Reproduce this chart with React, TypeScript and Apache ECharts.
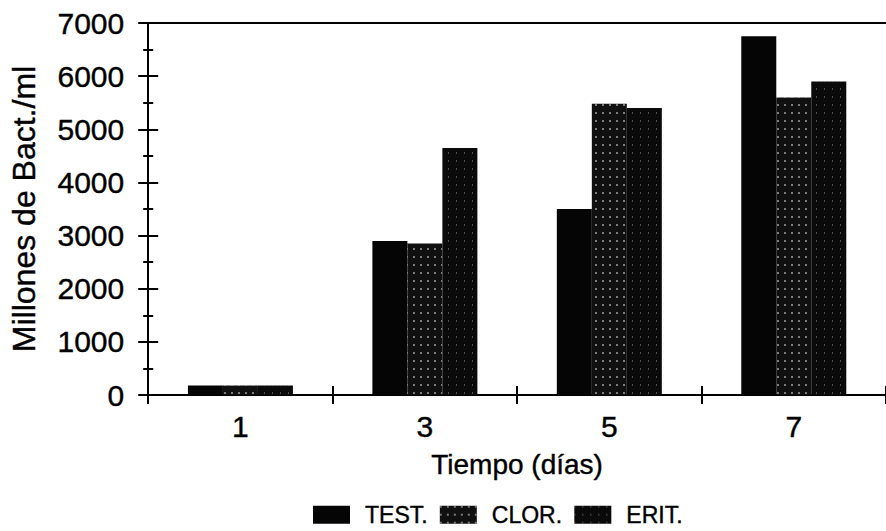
import React, { useEffect, useRef } from "react";
import * as echarts from "echarts";

const categories = ["1", "3", "5", "7"];
const seriesNames = ["TEST.", "CLOR.", "ERIT."];
const test = [180, 2900, 3500, 6750];
const clor = [180, 2850, 5480, 5600];
const erit = [180, 4650, 5400, 5900];
const yTicks = { min: 0, max: 7000, interval: 1000 };

const FONT = "'Liberation Sans', Arial, sans-serif";
const thick = { textBorderColor: "#000", textBorderWidth: 0.4 };

export default function App() {
  const ref = useRef<HTMLDivElement>(null);
  useEffect(() => {
    if (!ref.current) return;
    const chart = echarts.init(ref.current, undefined, { renderer: "svg" });
    const speck = {
      symbol: "rect",
      symbolSize: 1,
      color: "rgba(255,255,255,0.45)",
      dashArrayX: [1.5, 5],
      dashArrayY: [2, 6],
    };
    const barBase = { type: "bar", barWidth: 35, barGap: "0%", xAxisIndex: 0, yAxisIndex: 0 };
    chart.setOption({
      animation: false,
      backgroundColor: "#ffffff",
      textStyle: { fontFamily: FONT, color: "#000" },
      grid: { left: 148, width: 748, top: 23, bottom: 136, containLabel: false },
      legend: {
        data: seriesNames,
        icon: "rect",
        left: 313,
        top: 503,
        padding: 0,
        itemWidth: 37,
        itemHeight: 18,
        itemGap: 12,
        formatter: (name: string) => "{g| }" + name,
        textStyle: {
          fontSize: 23,
          color: "#000",
          fontFamily: FONT,
          ...thick,
          rich: { g: { width: 10, fontSize: 23 } },
        },
      },
      xAxis: [
        {
          type: "category",
          data: categories,
          position: "bottom",
          axisLine: { lineStyle: { color: "#000", width: 2 } },
          axisTick: { show: true, length: 9, lineStyle: { color: "#000", width: 2 } },
          axisLabel: { fontSize: 30, color: "#000", margin: 16, fontFamily: FONT, ...thick },
          name: "Tiempo (días)",
          nameLocation: "middle",
          nameGap: 55,
          nameTextStyle: { fontSize: 28, color: "#000", fontFamily: FONT, ...thick },
        },
        {
          type: "category",
          data: categories,
          position: "bottom",
          axisLine: { show: false },
          axisTick: { show: true, inside: true, length: 9, lineStyle: { color: "#000", width: 2 } },
          axisLabel: { show: false },
        },
        {
          type: "category",
          data: categories,
          position: "top",
          axisLine: { show: true, lineStyle: { color: "#000", width: 2 } },
          axisTick: { show: false },
          axisLabel: { show: false },
        },
      ],
      yAxis: [
        {
          type: "value",
          min: yTicks.min,
          max: yTicks.max,
          interval: yTicks.interval,
          position: "left",
          axisLine: { show: true, lineStyle: { color: "#000", width: 2 } },
          axisTick: { show: true, length: 10, lineStyle: { color: "#000", width: 2 } },
          minorTick: { show: true, splitNumber: 2, length: 5, lineStyle: { color: "#000", width: 2 } },
          splitLine: { show: false },
          axisLabel: {
            fontSize: 30,
            color: "#000",
            margin: 24,
            fontFamily: FONT,
            formatter: (v: number) => String(v),
            ...thick,
          },
          name: "Millones de Bact./ml",
          nameLocation: "middle",
          nameGap: 108,
          nameTextStyle: { fontSize: 32, color: "#000", fontFamily: FONT, ...thick },
        },
        {
          type: "value",
          min: yTicks.min,
          max: yTicks.max,
          interval: yTicks.interval,
          position: "left",
          axisLine: { show: false },
          axisTick: { show: true, inside: true, length: 10, lineStyle: { color: "#000", width: 2 } },
          minorTick: { show: true, splitNumber: 2, length: 5, lineStyle: { color: "#000", width: 2 } },
          splitLine: { show: false },
          axisLabel: { show: false },
        },
      ],
      series: [
        { ...barBase, name: seriesNames[0], data: test, itemStyle: { color: "#050505" } },
        { ...barBase, name: seriesNames[1], data: clor, itemStyle: { color: "#101010", decal: speck } },
        {
          ...barBase,
          name: seriesNames[2],
          data: erit,
          itemStyle: { color: "#0a0a0a", decal: { ...speck, dashArrayX: [1, 7], color: "rgba(255,255,255,0.3)" } },
        },
      ],
    });
    return () => chart.dispose();
  }, []);
  return <div ref={ref} style={{ width: 886, height: 531, position: "fixed", left: 0, top: 0 }} />;
}
